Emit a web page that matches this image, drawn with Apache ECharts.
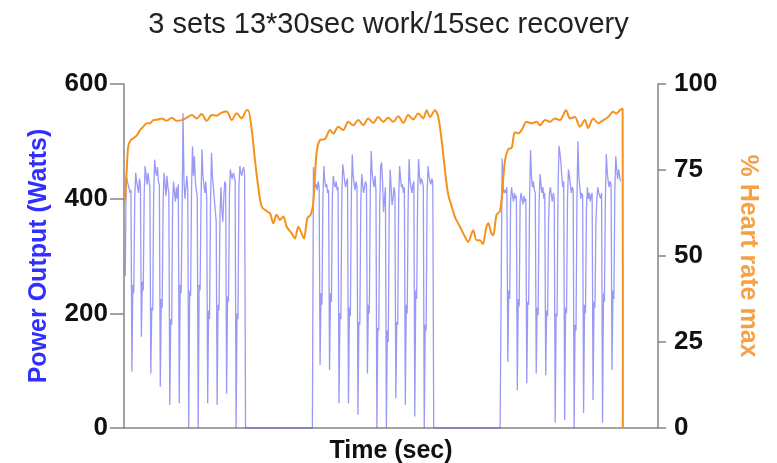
<!DOCTYPE html>
<html>
<head>
<meta charset="utf-8">
<script src="https://cdn.jsdelivr.net/npm/echarts@6/dist/echarts.min.js"></script>
<style>html,body{margin:0;padding:0;background:#fff}#c{width:777px;height:463px}</style>
</head>
<body>
<div id="c"></div>
<script>
// ---- data ----
const titleText = '3 sets 13*30sec work/15sec recovery';
const powerTicks = [0, 200, 400, 600];
const hrTicks = [0, 25, 50, 75, 100];
const sampleStep = 4.5;            // seconds between power samples
const setStarts = [6, 900, 1792];  // seconds
const restEndTimes = [895, 1787];  // last zero-power sample before the next set
const restPower = [0, 0];

const set1Power = [
  265,440,432,425,418,410,415,98,250,235,
  400,445,430,420,410,435,425,159,255,240,
  410,457,440,425,445,430,420,95,210,205,
  405,468,450,440,455,430,425,72,225,210,
  400,445,425,405,440,420,410,40,190,180,
  395,430,410,395,420,400,425,43,250,235,
  380,549,430,400,420,440,415,0,240,230,
  420,491,440,474,430,415,405,0,250,240,
  400,486,440,425,410,430,400,43,205,190,
  390,480,440,420,400,380,360,40,215,205,
  370,420,380,360,400,430,425,60,230,220,
  410,451,440,434,445,440,430,0,200,190,
  420,457,445,440,450,455,440,0
];
const set2Power = [
  455,430,420,425,415,430,420,110,235,215,
  400,457,430,420,425,410,415,101,235,220,
  405,440,425,420,430,415,420,43,200,190,
  410,460,445,430,420,430,435,43,210,195,
  400,477,440,425,415,430,420,23,185,180,
  395,443,425,410,420,430,425,95,215,200,
  410,483,445,430,420,440,415,0,175,170,
  390,457,463,430,377,400,420,0,170,150,
  380,451,420,389,400,420,410,52,185,180,
  400,457,435,420,425,410,420,40,215,200,
  395,469,430,420,410,425,430,20,240,225,
  400,469,440,425,435,430,420,0,180,170,
  410,457,440,430,425,435,430,0
];
const set3Power = [
  250,470,420,410,415,410,420,115,240,225,
  400,420,405,395,410,400,405,66,225,212,
  395,410,400,390,405,395,400,78,220,215,
  400,485,440,420,430,415,410,95,210,197,
  390,443,425,410,420,400,410,92,205,195,
  357,410,420,405,395,410,400,9,200,195,
  410,492,480,463,440,420,430,14,210,200,
  400,451,440,425,410,420,415,0,180,170,
  400,500,439,420,400,410,405,26,215,200,
  380,420,400,410,395,405,410,49,220,210,
  357,400,420,410,405,400,410,9,235,220,
  400,478,445,430,420,430,425,101,240,225,
  420,474,450,434,451,440,430
];

const hrTime = [5,13,20,32,44,60,76,92,108,124,139,163,179,203,227,250,274,298,322,345,369,393,417,440,464,488,512,535,559,583,590,
  607,622,638,654,678,694,709,725,741,757,773,797,812,828,844,855,871,887,899,
  915,931,955,979,994,1018,1042,1065,1089,1113,1137,1160,1184,1208,1232,1255,1279,1303,1327,1350,1374,1398,1422,1438,1454,1477,1493,
  1509,1525,1540,1557,1572,1596,1620,1635,1659,1675,1691,1705,1720,1731,1743,1754,1770,1786,1796,
  1810,1825,1842,1857,1873,1889,1913,1937,1960,1976,2000,2024,2047,2071,2100,2119,2142,2166,2190,2205,2229,2253,2277,2300,2324,2340,2356,2369,2370];
const hrPct = [66,75,81.8,83.7,84.2,85,86.6,87.6,88.6,88.6,89.5,89.7,90,89.3,90.2,89.3,89.5,90.2,91,90,91.3,89.3,91,90.8,91.7,92,89.5,91.5,90,92.4,92.4,
  86.6,78,70,64.4,63,62.4,59.5,62,60.5,61.5,58.5,56.5,55.1,58.5,56.5,55.1,61,62,65.3,
  80,83.7,84,86.6,85.6,87.6,86.6,89,88,89.5,88,90,88.7,90.4,89,90.2,89,90.6,88.7,91,89.7,91.4,90,92.4,90.4,92.4,90.4,
  83.7,74.9,68,64.4,61.4,58.5,55.6,54.1,57.5,54.6,54.6,53.5,58,59.5,57,56,62,63,68,
  77.7,81,81.5,86,85.6,86.6,89,88.6,89,88,89.5,89,90,89.5,92.4,90,90.4,87.6,89.5,87.2,90,88.6,89.5,90.4,91.9,91.4,92.4,92.8,0];

// ---- build series data ----
const powerSets = [set1Power, set2Power, set3Power];
const powerData = [];
powerSets.forEach((vals, s) => {
  vals.forEach((v, i) => powerData.push([setStarts[s] + i * sampleStep, v]));
  if (s < restEndTimes.length) powerData.push([restEndTimes[s], restPower[s]]);
});
const hrData = hrTime.map((t, i) => [t, hrPct[i]]);

const FONT = '"Liberation Sans", Arial, Helvetica, sans-serif';
const axisGray = '#858585';

const chart = echarts.init(document.getElementById('c'), null, {renderer: 'canvas'});
chart.setOption({
  animation: false,
  backgroundColor: '#ffffff',
  title: {
    text: titleText, left: 'center', top: 5,
    textStyle: {fontFamily: FONT, fontSize: 29, fontWeight: 'normal', color: '#222'}
  },
  grid: {left: 124, right: 119, top: 84, bottom: 35, containLabel: false, outerBoundsMode: 'none'},
  xAxis: {
    type: 'value', min: 0, max: 2537,
    name: 'Time (sec)', nameLocation: 'middle', nameGap: 11,
    nameTextStyle: {fontFamily: FONT, fontSize: 25, fontWeight: 'bold', color: '#111'},
    axisLine: {show: true, onZero: false, lineStyle: {color: axisGray, width: 1.5}},
    axisTick: {show: false}, axisLabel: {show: false}, splitLine: {show: false}
  },
  yAxis: [{
    type: 'value', position: 'left', min: 0, max: 600, interval: 200,
    name: 'Power Output (Watts)', nameLocation: 'middle', nameRotate: 90, nameGap: 72,
    nameTextStyle: {fontFamily: FONT, fontSize: 25, fontWeight: 'bold', color: '#2f2fff'},
    axisLine: {show: true, lineStyle: {color: axisGray, width: 1.5}},
    axisTick: {show: true, length: 14, lineStyle: {color: axisGray, width: 1.5}},
    axisLabel: {fontFamily: FONT, fontSize: 26, fontWeight: 'bold', color: '#111', margin: 16,
      formatter: v => powerTicks.includes(v) ? String(v) : ''},
    splitLine: {show: false}
  }, {
    type: 'value', position: 'right', min: 0, max: 100, interval: 25,
    name: '% Heart rate max', nameLocation: 'middle', nameRotate: -90, nameGap: 77,
    nameTextStyle: {fontFamily: FONT, fontSize: 25, fontWeight: 'bold', color: '#f5a145'},
    axisLine: {show: true, lineStyle: {color: axisGray, width: 1.5}},
    axisTick: {show: true, length: 8, lineStyle: {color: axisGray, width: 1.5}},
    axisLabel: {fontFamily: FONT, fontSize: 26, fontWeight: 'bold', color: '#111', margin: 16,
      formatter: v => hrTicks.includes(v) ? String(v) : ''},
    splitLine: {show: false}
  }],
  series: [{
    type: 'line', yAxisIndex: 0, data: powerData, showSymbol: false, symbol: 'none',
    sampling: null, lineStyle: {color: '#5555f0', width: 1.3, opacity: 0.6}, z: 2
  }, {
    type: 'line', yAxisIndex: 1, data: hrData, showSymbol: false, symbol: 'none',
    smooth: 0.3, lineStyle: {color: '#f5921e', width: 2}, z: 3
  }]
});
</script>
</body>
</html>
